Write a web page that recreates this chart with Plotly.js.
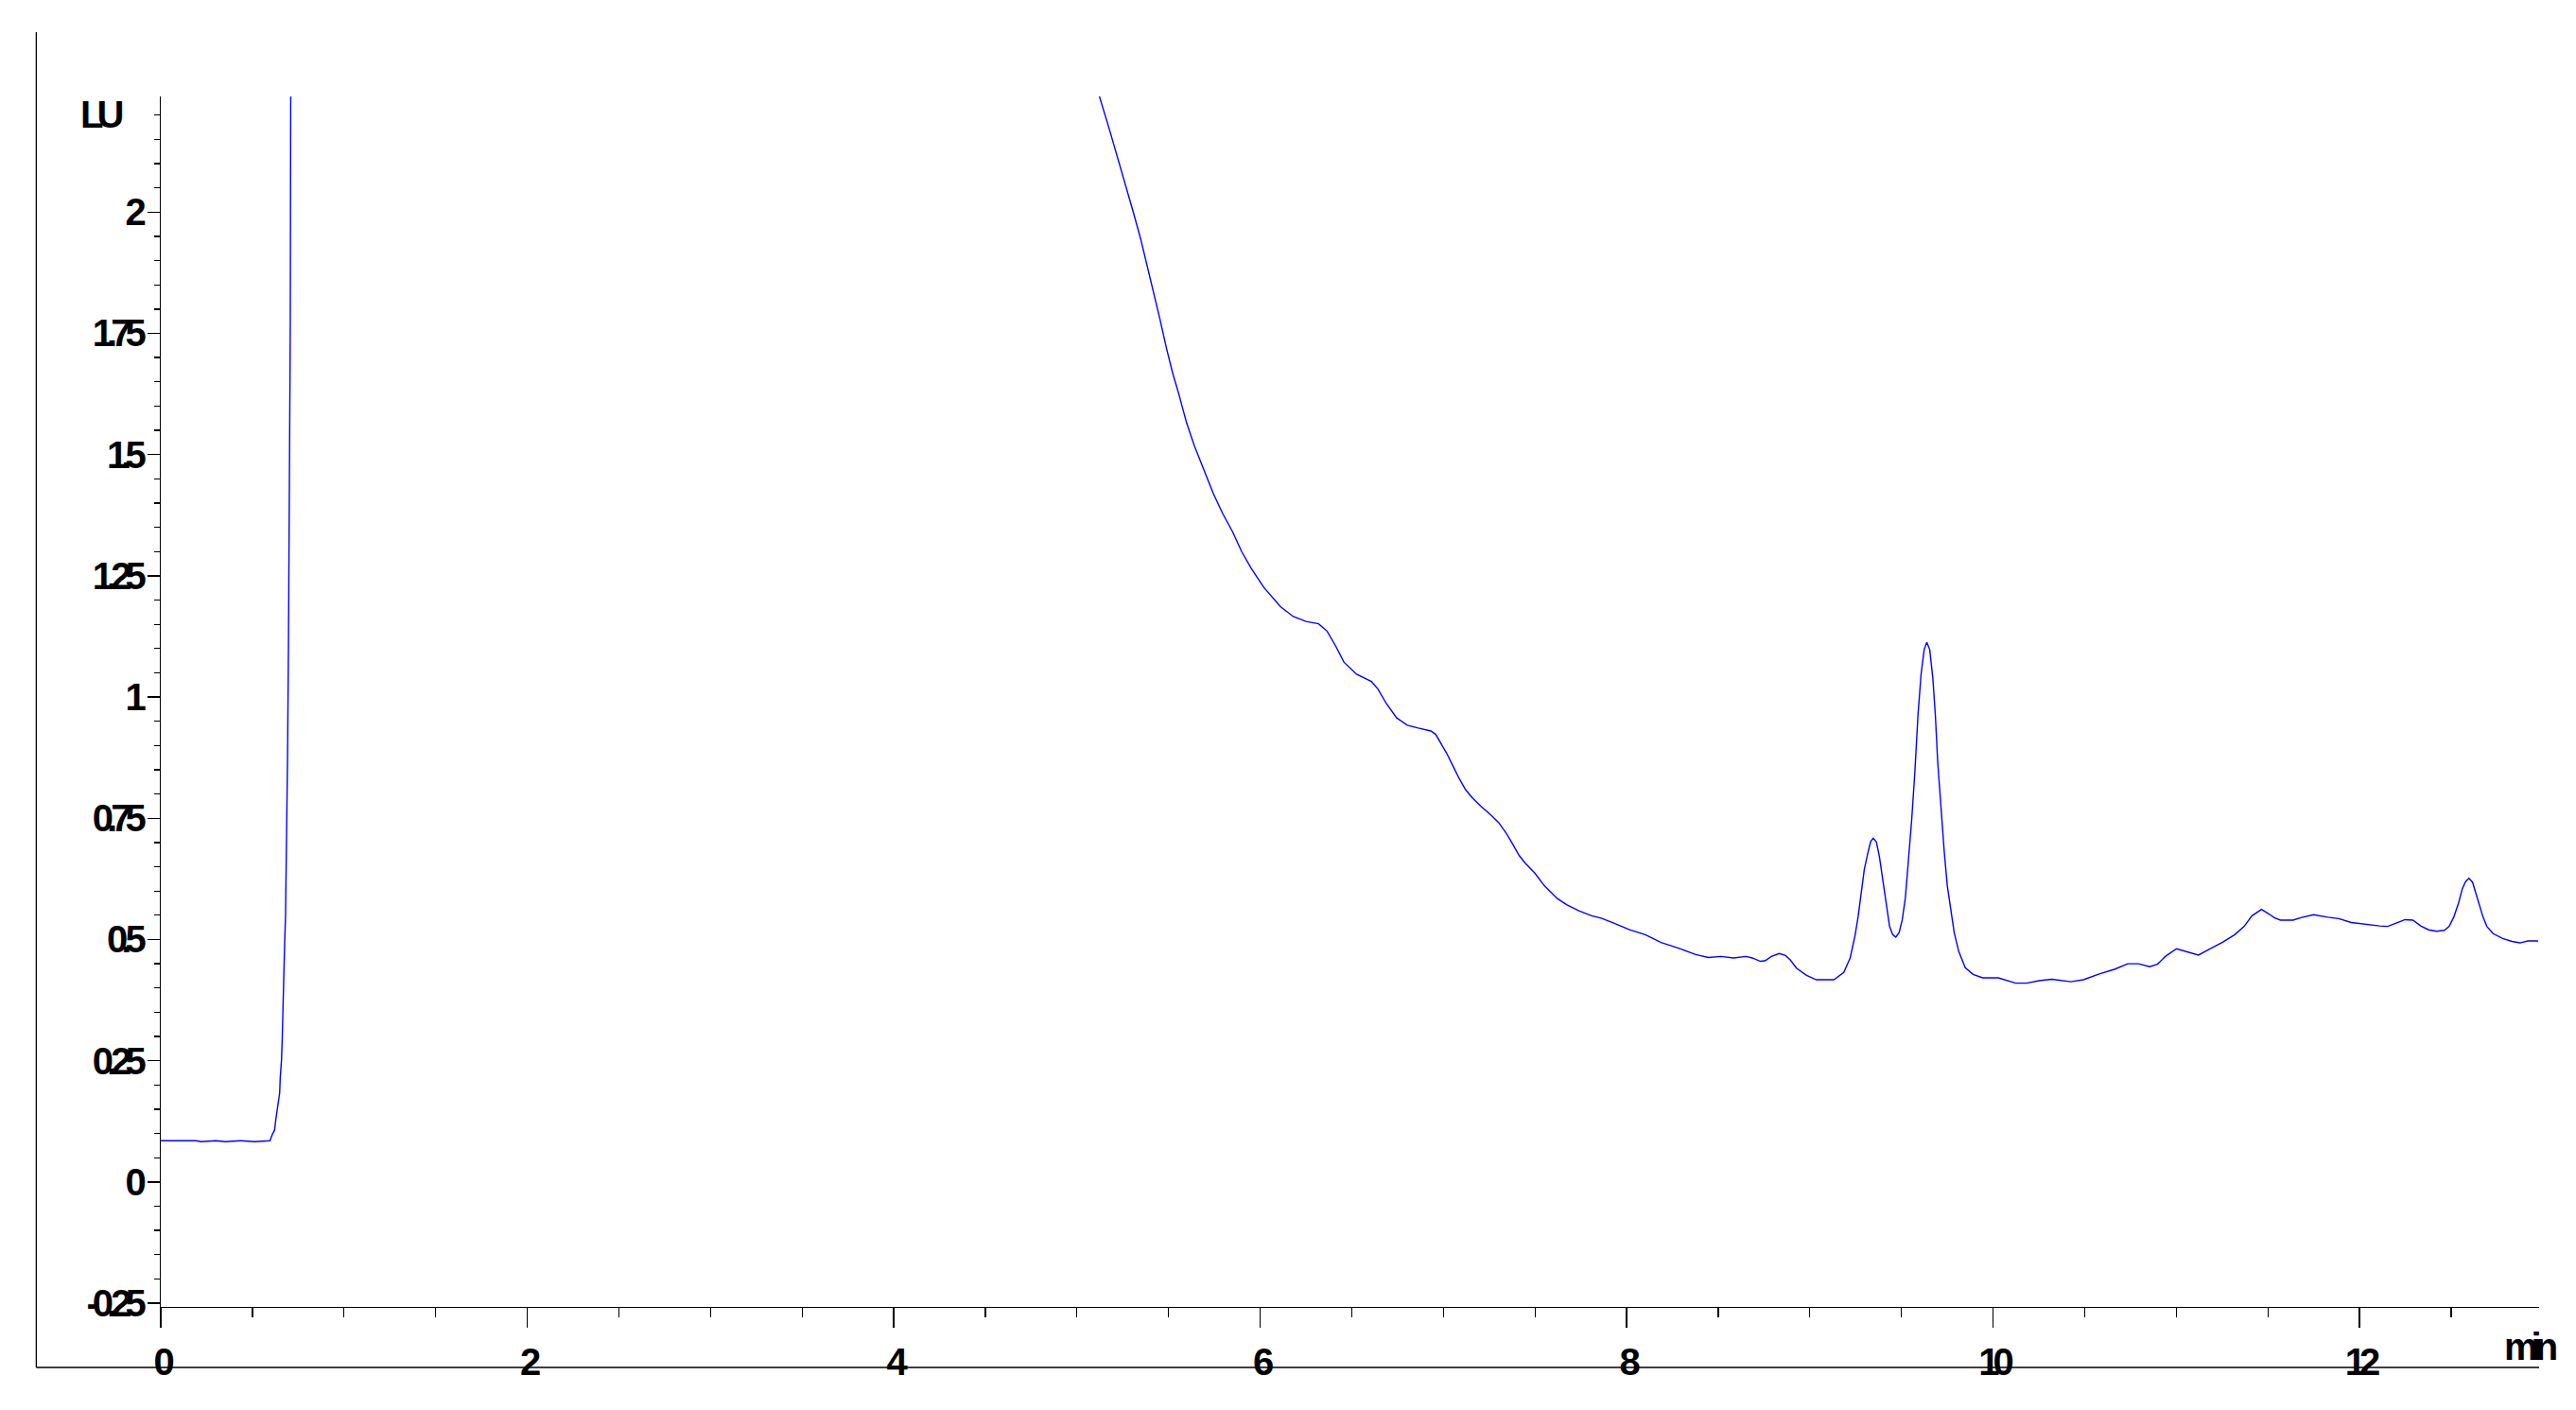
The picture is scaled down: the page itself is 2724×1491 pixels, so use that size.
<!DOCTYPE html>
<html>
<head>
<meta charset="utf-8">
<script src="https://cdn.plot.ly/plotly-3.0.1.min.js"></script>
<style>
  html, body { margin: 0; padding: 0; background: #ffffff; }
  #chart { width: 2724px; height: 1491px; }
  .xtick text, .ytick text, .annotation-text { letter-spacing: -7px; }
</style>
</head>
<body>
<div id="chart"></div>
<script>
// Retention time (min) and fluorescence signal (LU)
const timeMin = [
  0, 0.193, 0.219, 0.301, 0.353, 0.436, 0.511, 0.596,
  0.609, 0.621, 0.628, 0.635, 0.642, 0.649, 0.652, 0.659, 0.663, 0.666, 0.671, 0.676,
  0.681, 0.687, 0.692, 0.697, 0.702, 0.707, 0.709, 0.714,
  null,
  5.09, 5.120, 5.177, 5.223, 5.263, 5.306, 5.349, 5.383, 5.418, 5.452, 5.487, 5.521,
  5.556, 5.598, 5.641, 5.693, 5.744, 5.796, 5.848, 5.899, 5.950, 6.020, 6.112, 6.181,
  6.250, 6.319, 6.365, 6.411, 6.457, 6.526, 6.607, 6.642, 6.688, 6.745, 6.803, 6.863,
  6.932, 6.958, 6.983, 7.018, 7.052, 7.086, 7.121, 7.156, 7.207, 7.259, 7.302, 7.345,
  7.379, 7.414, 7.448, 7.499, 7.551, 7.620, 7.672, 7.740, 7.809, 7.861, 7.930, 8.016,
  8.102, 8.188, 8.291, 8.377, 8.446, 8.515, 8.583, 8.652, 8.686, 8.730, 8.755, 8.790,
  8.833, 8.867, 8.893, 8.910, 8.927, 8.982, 9.036, 9.131, 9.172, 9.185, 9.220, 9.246,
  9.263, 9.280, 9.297, 9.315, 9.332, 9.346, 9.363, 9.380, 9.401, 9.418, 9.435, 9.452,
  9.469, 9.487, 9.504, 9.521, 9.538, 9.556, 9.573, 9.590, 9.607, 9.624, 9.638, 9.654,
  9.671, 9.685, 9.698, 9.716, 9.733, 9.750, 9.767, 9.788, 9.813, 9.848, 9.891, 9.943,
  10.028, 10.080, 10.123, 10.183, 10.252, 10.321, 10.373, 10.424, 10.493, 10.580, 10.666, 10.734,
  10.794, 10.854, 10.897, 10.940, 11.001, 11.061, 11.121, 11.181, 11.250, 11.319, 11.370, 11.413,
  11.465, 11.508, 11.534, 11.568, 11.637, 11.680, 11.749, 11.826, 11.886, 11.955, 12.033, 12.110,
  12.153, 12.196, 12.248, 12.291, 12.334, 12.377, 12.420, 12.463, 12.489, 12.514, 12.540, 12.561,
  12.578, 12.597, 12.617, 12.635, 12.652, 12.674, 12.695, 12.729, 12.781, 12.832, 12.875, 12.918,
  12.975
];
const signalLU = [
  0.085, 0.085, 0.083, 0.085, 0.083, 0.085, 0.083, 0.085,
  0.098, 0.107, 0.129, 0.145, 0.163, 0.184, 0.215, 0.252, 0.296, 0.359, 0.442, 0.490,
  0.550, 0.690, 0.880, 1.110, 1.390, 1.780, 2.220, 2.400,
  null,
  2.300, 2.242, 2.171, 2.112, 2.060, 2.002, 1.943, 1.891, 1.839, 1.781, 1.722, 1.670,
  1.625, 1.566, 1.518, 1.469, 1.420, 1.378, 1.342, 1.300, 1.266, 1.226, 1.186, 1.166,
  1.156, 1.151, 1.136, 1.106, 1.072, 1.047, 1.032, 1.017, 0.987, 0.957, 0.942, 0.936,
  0.930, 0.923, 0.907, 0.884, 0.858, 0.832, 0.809, 0.793, 0.774, 0.757, 0.741, 0.718,
  0.696, 0.673, 0.657, 0.637, 0.611, 0.585, 0.572, 0.559, 0.549, 0.544, 0.534, 0.520,
  0.510, 0.494, 0.481, 0.469, 0.463, 0.465, 0.462, 0.465, 0.462, 0.455, 0.456, 0.465,
  0.471, 0.467, 0.458, 0.449, 0.441, 0.426, 0.417, 0.417, 0.429, 0.432, 0.462, 0.507,
  0.546, 0.592, 0.644, 0.676, 0.702, 0.709, 0.701, 0.670, 0.618, 0.572, 0.527, 0.510,
  0.505, 0.514, 0.540, 0.585, 0.657, 0.748, 0.845, 0.962, 1.047, 1.098, 1.113, 1.098,
  1.040, 0.962, 0.865, 0.767, 0.683, 0.611, 0.566, 0.514, 0.475, 0.442, 0.428, 0.421,
  0.421, 0.415, 0.410, 0.410, 0.415, 0.418, 0.416, 0.413, 0.417, 0.429, 0.439, 0.450,
  0.450, 0.444, 0.449, 0.465, 0.481, 0.475, 0.468, 0.480, 0.494, 0.510, 0.527, 0.549,
  0.562, 0.552, 0.545, 0.540, 0.540, 0.545, 0.551, 0.546, 0.543, 0.535, 0.531, 0.528,
  0.527, 0.533, 0.541, 0.540, 0.528, 0.520, 0.517, 0.519, 0.527, 0.546, 0.575, 0.605,
  0.619, 0.626, 0.618, 0.595, 0.572, 0.546, 0.527, 0.512, 0.502, 0.496, 0.493, 0.497,
  0.497
];

const xTickVals = [0, 2, 4, 6, 8, 10, 12];
const xTickText = ["0", "2", "4", "6", "8", "10", "12"];
const yTickVals = [-0.25, 0, 0.25, 0.5, 0.75, 1, 1.25, 1.5, 1.75, 2];
const yTickText = ["-0.25", "0", "0.25", "0.5", "0.75", "1", "1.25", "1.5", "1.75", "2"];
const xUnit = "min";
const yUnit = "LU";

const tickFont = { family: "Liberation Sans, Arial, sans-serif", size: 40, color: "#000000", weight: 700 };

const trace = {
  type: "scatter",
  mode: "lines",
  x: timeMin,
  y: signalLU,
  connectgaps: false,
  line: { color: "#0000ff", width: 1.4 },
  hoverinfo: "skip",
  showlegend: false
};

const layout = {
  width: 2724,
  height: 1491,
  margin: { l: 170, r: 39, t: 102, b: 109, pad: 0 },
  paper_bgcolor: "#ffffff",
  plot_bgcolor: "#ffffff",
  showlegend: false,
  xaxis: {
    range: [0, 12.98],
    tickmode: "array",
    tickvals: xTickVals,
    ticktext: xTickText,
    ticks: "outside",
    ticklen: 21,
    tickwidth: 1.3,
    tickcolor: "#000000",
    minor: { dtick: 0.5, tick0: 0, ticks: "outside", ticklen: 10, tickwidth: 1.3, tickcolor: "#000000", showgrid: false },
    showline: true,
    linecolor: "#000000",
    linewidth: 1.3,
    showgrid: false,
    zeroline: false,
    tickfont: tickFont,
    ticklabelstandoff: 2
  },
  yaxis: {
    range: [-0.2577, 2.2385],
    tickmode: "array",
    tickvals: yTickVals,
    ticktext: yTickText,
    ticks: "outside",
    ticklen: 13,
    tickwidth: 1.3,
    tickcolor: "#000000",
    minor: { dtick: 0.05, tick0: 0, ticks: "outside", ticklen: 6, tickwidth: 1.3, tickcolor: "#000000", showgrid: false },
    showline: true,
    linecolor: "#000000",
    linewidth: 1.3,
    showgrid: false,
    zeroline: false,
    tickfont: tickFont,
    ticklabelstandoff: 0
  },
  annotations: [
    {
      xref: "paper", yref: "paper", x: -0.0155, y: 0.985,
      xanchor: "right", yanchor: "middle",
      text: yUnit, showarrow: false, font: tickFont
    },
    {
      xref: "paper", yref: "paper", x: 0.9845, y: -0.0326,
      xanchor: "left", yanchor: "middle",
      text: xUnit, showarrow: false, font: tickFont
    }
  ],
  shapes: [
    { type: "line", xref: "paper", yref: "paper", x0: -0.05233, x1: -0.05233, y0: 1.05312, y1: -0.04999,
      line: { color: "#000000", width: 1.3 } },
    { type: "line", xref: "paper", yref: "paper", x0: -0.05233, x1: 1.0, y0: -0.04999, y1: -0.04999,
      line: { color: "#000000", width: 1.3 } }
  ]
};

Plotly.newPlot("chart", [trace], layout, { displayModeBar: false, staticPlot: true });
</script>
</body>
</html>
